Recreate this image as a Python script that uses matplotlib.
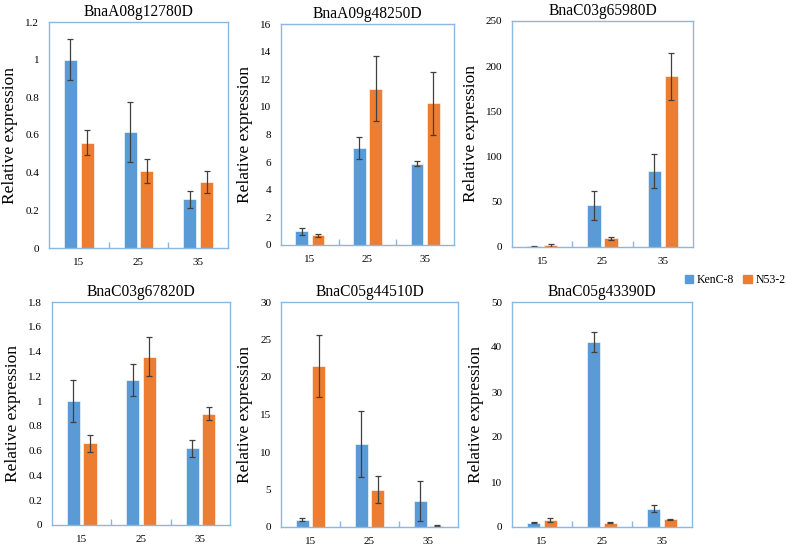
import matplotlib
matplotlib.use('Agg')
import matplotlib.pyplot as plt
import matplotlib.patches as mpatches
from matplotlib.ticker import FuncFormatter, MultipleLocator
import numpy as np

# ── data ──────────────────────────────────────────────────────────────────────
days = ['15', '25', '35']
genes = ['BnaA08g12780D', 'BnaA09g48250D', 'BnaC03g65980D',
         'BnaC03g67820D', 'BnaC05g44510D', 'BnaC05g43390D']

kenc_mean = [
    [1.0, 0.615, 0.26],
    [1.0, 7.0, 5.9],
    [1.0, 46, 84],
    [1.0, 1.17, 0.62],
    [1.0, 11.1, 3.5],
    [1.0, 41.2, 4.1],
]
kenc_err = [
    [0.11, 0.16, 0.045],
    [0.25, 0.8, 0.15],
    [0.5, 16, 19],
    [0.17, 0.13, 0.07],
    [0.15, 4.4, 2.7],
    [0.1, 2.2, 0.7],
]
n53_mean = [
    [0.56, 0.41, 0.35],
    [0.7, 11.3, 10.25],
    [2.0, 9.5, 189],
    [0.66, 1.36, 0.9],
    [21.5, 4.96, 0.2],
    [1.55, 1.0, 1.7],
]
n53_err = [
    [0.065, 0.065, 0.06],
    [0.1, 2.35, 2.25],
    [1.5, 2.0, 26],
    [0.07, 0.16, 0.055],
    [4.1, 1.8, 0.05],
    [0.5, 0.15, 0.15],
]
ymax = [1.2, 16, 250, 1.8, 30, 50]
ystep = [0.2, 2, 50, 0.2, 5, 10]

# ── layout (pixel boxes: left, right, top, bottom) ────────────────────────────
W, H = 787, 548
boxes = [
    (49, 228, 22, 248),
    (281, 454, 24, 245),
    (512, 693, 21, 247),
    (52, 230, 302, 525),
    (281, 458, 302, 527),
    (512, 692, 302, 527),
]

BLUE = '#5B9BD5'
ORANGE = '#ED7D31'
FRAME = '#8BB8E2'
ERRC = '#404040'

plt.rcParams['font.family'] = ['Liberation Serif', 'DejaVu Serif']

fig = plt.figure(figsize=(W / 100, H / 100), dpi=100)

x = np.arange(1, len(days) + 1)
bw = 0.22
off = 0.14

for i, (l, r, t, b) in enumerate(boxes):
    ax = fig.add_axes([l / W, 1 - b / H, (r - l) / W, (b - t) / H])
    ax.bar(x - off, kenc_mean[i], bw, color=BLUE, edgecolor='white', linewidth=0.4)
    ax.bar(x + off, n53_mean[i], bw, color=ORANGE, edgecolor='white', linewidth=0.4)
    ax.errorbar(x - off, kenc_mean[i], yerr=kenc_err[i], fmt='none',
                ecolor=ERRC, elinewidth=0.9, capsize=2.5, capthick=0.9)
    ax.errorbar(x + off, n53_mean[i], yerr=n53_err[i], fmt='none',
                ecolor=ERRC, elinewidth=0.9, capsize=2.5, capthick=0.9)

    ax.set_xlim(0.5, 3.5)
    ax.set_ylim(0, ymax[i])
    ax.yaxis.set_major_locator(MultipleLocator(ystep[i]))
    ax.yaxis.set_major_formatter(FuncFormatter(lambda v, p: f'{v:g}'))
    ax.set_xticks(x)
    ax.set_xticklabels(days)
    ax.set_xticks([1.5, 2.5], minor=True)
    ax.tick_params(axis='x', which='major', length=0, labelsize=8, pad=7)
    ax.tick_params(axis='x', which='minor', length=4, direction='in',
                   color=FRAME, width=1)
    ax.tick_params(axis='y', length=0, labelsize=8, pad=7)
    for sp in ax.spines.values():
        sp.set_color(FRAME)
        sp.set_linewidth(1.0)
    ax.set_title(genes[i], fontsize=11.2, pad=4)
    ax.set_ylabel('Relative expression', fontsize=12.5, labelpad=5)

handles = [mpatches.Patch(color=BLUE, label='KenC-8'),
           mpatches.Patch(color=ORANGE, label='N53-2')]
fig.legend(handles=handles, loc='center', bbox_to_anchor=(735 / W, 1 - 280 / H),
           ncol=2, frameon=False, fontsize=8.5, handlelength=0.7,
           handleheight=0.7, handletextpad=0.3, columnspacing=0.8)

fig.savefig('out.png', dpi=100)
